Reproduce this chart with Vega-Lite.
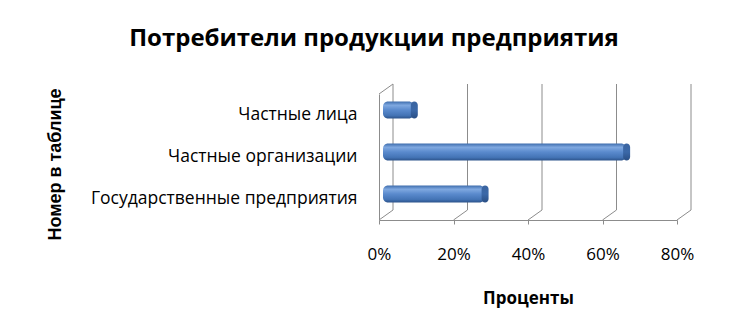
{
  "$schema": "https://vega.github.io/schema/vega-lite/v6.json",
  "autosize": {"type": "none"},
  "padding": {"left": 379, "top": 94, "right": 76, "bottom": 116},
  "width": 298,
  "height": 126,
  "background": "white",
  "config": {"view": {"stroke": null}, "font": "Open Sans"},
  "title": {
    "text": "Потребители продукции предприятия",
    "font": "Open Sans",
    "fontSize": 24,
    "fontWeight": "bold",
    "color": "#000000",
    "anchor": "middle",
    "dx": -154,
    "offset": 33
  },
  "datasets": {
    "bars": [
      {"category": "Частные лица", "value": 8},
      {"category": "Частные организации", "value": 65},
      {"category": "Государственные предприятия", "value": 27}
    ],
    "grid": [{"v": 0}, {"v": 20}, {"v": 40}, {"v": 60}, {"v": 80}]
  },
  "layer": [
    {
      "data": {"name": "grid"},
      "mark": {"type": "rule", "color": "#8c8c8c", "strokeWidth": 1, "xOffset": 14, "x2Offset": 14},
      "encoding": {
        "x": {"field": "v", "type": "quantitative", "scale": {"domain": [0, 80]},
          "axis": {"values": [0, 20, 40, 60, 80], "format": ".0f", "labelExpr": "datum.value + '%'", "title": "Проценты",
            "grid": false, "labelFlush": false, "labelOverlap": false, "domainColor": "#8c8c8c", "tickColor": "#8c8c8c", "tickSize": 4, "labelPadding": 22,
            "labelFont": "Open Sans", "labelFontSize": 17, "labelColor": "#000000",
            "titleFont": "Open Sans", "titleFontSize": 17, "titleFontWeight": "bold", "titleColor": "#000000",
            "titleY": 78, "titleBaseline": "middle"}},
        "x2": {"field": "v"},
        "y": {"value": {"expr": "-10"}},
        "y2": {"value": {"expr": "height - 10"}}
      }
    },
    {
      "data": {"name": "grid"},
      "mark": {"type": "rule", "color": "#8c8c8c", "strokeWidth": 1, "x2Offset": 14},
      "encoding": {
        "x": {"field": "v", "type": "quantitative"},
        "x2": {"field": "v"},
        "y": {"value": {"expr": "height"}},
        "y2": {"value": {"expr": "height - 10"}}
      }
    },
    {
      "data": {"name": "grid"},
      "transform": [{"filter": "datum.v == 0"}],
      "mark": {"type": "rule", "color": "#8c8c8c", "strokeWidth": 1, "x2Offset": 14},
      "encoding": {
        "x": {"field": "v", "type": "quantitative"},
        "x2": {"field": "v"},
        "y": {"value": {"expr": "0"}},
        "y2": {"value": {"expr": "-10"}}
      }
    },
    {
      "data": {"name": "bars"},
      "mark": {"type": "bar", "xOffset": 5, "x2Offset": 4, "yOffset": -5, "cornerRadius": 5,
        "color": {"gradient": "linear", "x1": 0, "y1": 0, "x2": 0, "y2": 1,
          "stops": [
            {"offset": 0, "color": "#3f6eae"},
            {"offset": 0.22, "color": "#7fa8e0"},
            {"offset": 0.5, "color": "#5a8acd"},
            {"offset": 0.82, "color": "#4474b6"},
            {"offset": 1, "color": "#2d548c"}
          ]}},
      "encoding": {
        "y": {"field": "category", "type": "nominal",
          "sort": ["Частные лица", "Частные организации", "Государственные предприятия"],
          "scale": {"paddingInner": 0.6, "paddingOuter": 0.3},
          "axis": {"title": "Номер в таблице", "ticks": false, "labelPadding": 22, "domainColor": "#8c8c8c",
            "labelFont": "Open Sans", "labelFontSize": 17.5, "labelColor": "#000000", "labelLimit": 400,
            "titleFont": "Liberation Sans", "titleFontSize": 18, "titleFontWeight": "bold", "titleColor": "#000000",
            "titleX": -324, "titleY": 70, "titleAlign": "center", "titleBaseline": "middle", "titleAngle": -90}},
        "x": {"field": "value", "type": "quantitative", "stack": null},
        "x2": {"datum": 0}
      }
    },
    {
      "data": {"name": "bars"},
      "mark": {"type": "bar", "xOffset": 2, "x2Offset": 9, "yOffset": -5, "cornerRadius": 3.5,
        "color": {"gradient": "linear", "x1": 0, "y1": 0, "x2": 0, "y2": 1,
          "stops": [
            {"offset": 0, "color": "#3a64a0"},
            {"offset": 0.5, "color": "#3b68a8"},
            {"offset": 1, "color": "#2a4f85"}
          ]}},
      "encoding": {
        "y": {"field": "category", "type": "nominal", "sort": ["Частные лица", "Частные организации", "Государственные предприятия"]},
        "x": {"field": "value", "type": "quantitative", "stack": null},
        "x2": {"field": "value"}
      }
    }
  ]
}
